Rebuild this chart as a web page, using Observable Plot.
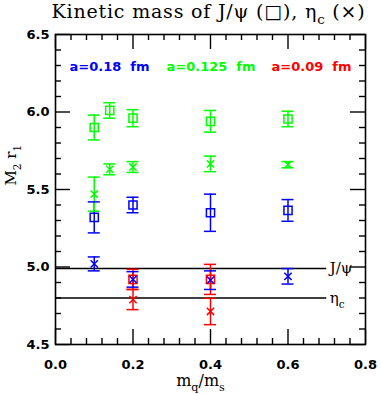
<!DOCTYPE html>
<html><head><meta charset="utf-8">
<script src="https://cdn.jsdelivr.net/npm/d3@7"></script>
<script src="https://cdn.jsdelivr.net/npm/@observablehq/plot@0.6"></script>
<style>body{margin:0;background:#fff}</style>
</head><body><div id="chart"></div>
<script>
// ---- data ----
const spacingLabels = ["a=0.18\u00a0\u00a0fm", "a=0.125\u00a0\u00a0fm", "a=0.09\u00a0\u00a0fm"];
const spacingColors = ["#0000ff", "#00ff00", "#ff0000"];

const mq018 = [0.1, 0.2, 0.4, 0.6];
const psi018 = [5.32, 5.40, 5.35, 5.365];
const psi018Err = [0.10, 0.05, 0.12, 0.07];
const eta018 = [5.02, 4.92, 4.915, 4.94];
const eta018Err = [0.045, 0.05, 0.06, 0.05];

const mq0125 = [0.1, 0.14, 0.2, 0.4, 0.6];
const psi0125 = [5.90, 6.01, 5.96, 5.94, 5.955];
const psi0125Err = [0.08, 0.05, 0.055, 0.07, 0.05];
const eta0125 = [5.47, 5.63, 5.645, 5.665, 5.66];
const eta0125Err = [0.11, 0.035, 0.035, 0.05, 0.02];

const mq009 = [0.2, 0.4];
const psi009 = [4.92, 4.92];
const psi009Err = [0.065, 0.097];
const eta009 = [4.79, 4.713];
const eta009Err = [0.065, 0.085];

const refNames = ["J/\u03c8", "\u03b7_c"];
const refValues = [4.99, 4.80];
const refLineEnd = 0.7;

const xMajor = [0, 0.2, 0.4, 0.6, 0.8];
const yMajor = [4.5, 5.0, 5.5, 6.0, 6.5];
const xMinorStep = 0.04;
const yMinorStep = 0.1;

const titleText = "Kinetic mass of J/\u03c8 (\u25a1), \u03b7_c (\u00d7)";
const xLabel = "m_q/m_s";
const yLabel = "M_2 r_1";

// ---- build tables ----
function rows(xs, ys, es, color, kind) {
  return xs.map((x, i) => ({x, y: ys[i], lo: ys[i] - es[i], hi: ys[i] + es[i], color, kind}));
}
const pts = [
  ...rows(mq018, psi018, psi018Err, spacingColors[0], "psi"),
  ...rows(mq018, eta018, eta018Err, spacingColors[0], "eta"),
  ...rows(mq0125, psi0125, psi0125Err, spacingColors[1], "psi"),
  ...rows(mq0125, eta0125, eta0125Err, spacingColors[1], "eta"),
  ...rows(mq009, psi009, psi009Err, spacingColors[2], "psi"),
  ...rows(mq009, eta009, eta009Err, spacingColors[2], "eta")
];
const refs = refNames.map((name, i) => ({name, value: refValues[i]}));
const xMinor = d3.range(0, 0.8 + 1e-9, xMinorStep).filter(v => !xMajor.some(m => Math.abs(m - v) < 1e-9));
const yMinor = d3.range(4.5, 6.5 + 1e-9, yMinorStep).filter(v => !yMajor.some(m => Math.abs(m - v) < 1e-9));

// ---- layout ----
const W = 382, H = 394, mT = 34, mL = 55, mR = 17, mB = 50;
const fw = W - mL - mR, fh = H - mT - mB;
const majorLen = 15, minorLen = 6;
const tickFont = {fontFamily: "DejaVu Sans", fontSize: 13, fontWeight: "bold"};
const legendFont = {fontFamily: "DejaVu Sans", fontSize: 13, fontWeight: "bold"};
const id = d => d;
const tk = {stroke: "black", strokeWidth: 1.4};

const chart = Plot.plot({
  width: W, height: H,
  marginTop: mT, marginLeft: mL, marginRight: mR, marginBottom: mB,
  x: {domain: [0, 0.8]},
  y: {domain: [4.5, 6.5]},
  color: {type: "identity"},
  style: {fontFamily: "DejaVu Sans", fontSize: "13px", background: "white", color: "black"},
  marks: [
    // tick labels
    Plot.axisX(xMajor, {anchor: "bottom", tickSize: 0, tickPadding: 15, tickFormat: d3.format(".1f"), label: null, ...tickFont}),
    Plot.axisY(yMajor, {anchor: "left", tickSize: 0, tickPadding: 6, tickFormat: d3.format(".1f"), label: null, ...tickFont}),
    // reference lines
    Plot.ruleY(refs, {y: "value", x1: 0, x2: refLineEnd, stroke: "black", strokeWidth: 1.4}),
    Plot.text(refs, {x: refLineEnd, y: "value", text: "name", textAnchor: "start", dx: 3, fontFamily: "DejaVu Serif", fontSize: 15}),
    // error bars
    Plot.ruleX(pts, {x: "x", y1: "lo", y2: "hi", stroke: "color", strokeWidth: 1.5}),
    Plot.ruleY(pts, {y: "lo", x1: "x", x2: "x", insetLeft: -6, insetRight: -6, stroke: "color", strokeWidth: 1.5}),
    Plot.ruleY(pts, {y: "hi", x1: "x", x2: "x", insetLeft: -6, insetRight: -6, stroke: "color", strokeWidth: 1.5}),
    // markers
    Plot.dot(pts.filter(d => d.kind === "psi"), {x: "x", y: "y", symbol: "square", r: 4.6, stroke: "color", fill: "none", strokeWidth: 1.5}),
    Plot.dot(pts.filter(d => d.kind === "eta"), {x: "x", y: "y", symbol: "times", r: 3.4, stroke: "color", fill: "none", strokeWidth: 1.5}),
    // in-plot labels for the lattice spacings
    Plot.text([spacingLabels[0]], {text: id, frameAnchor: "top-left", dx: 14, dy: 32, textAnchor: "start", lineAnchor: "middle", fill: spacingColors[0], ...legendFont}),
    Plot.text([spacingLabels[1]], {text: id, frameAnchor: "top-left", dx: 111, dy: 32, textAnchor: "start", lineAnchor: "middle", fill: spacingColors[1], ...legendFont}),
    Plot.text([spacingLabels[2]], {text: id, frameAnchor: "top-left", dx: 216, dy: 32, textAnchor: "start", lineAnchor: "middle", fill: spacingColors[2], ...legendFont}),
    // title and axis labels
    Plot.text([titleText], {text: id, frameAnchor: "top", dx: -2, dy: -17, lineAnchor: "bottom", fontFamily: "DejaVu Serif", fontSize: 19}),
    Plot.text([xLabel], {text: id, frameAnchor: "bottom", dx: -10, dy: 41, lineAnchor: "bottom", fontFamily: "DejaVu Serif", fontSize: 16}),
    Plot.text([yLabel], {text: id, frameAnchor: "left", dx: -40, dy: -4, rotate: -90, lineAnchor: "bottom", fontFamily: "DejaVu Serif", fontSize: 15}),
    // inward ticks on all four sides, then the frame
    Plot.ruleX(xMajor, {x: id, insetTop: fh - majorLen, ...tk}),
    Plot.ruleX(xMinor, {x: id, insetTop: fh - minorLen, ...tk}),
    Plot.ruleX(xMajor, {x: id, insetBottom: fh - majorLen, ...tk}),
    Plot.ruleX(xMinor, {x: id, insetBottom: fh - minorLen, ...tk}),
    Plot.ruleY(yMajor, {y: id, insetRight: fw - majorLen, ...tk}),
    Plot.ruleY(yMinor, {y: id, insetRight: fw - minorLen, ...tk}),
    Plot.ruleY(yMajor, {y: id, insetLeft: fw - majorLen, ...tk}),
    Plot.ruleY(yMinor, {y: id, insetLeft: fw - minorLen, ...tk}),
    Plot.frame({stroke: "black", strokeWidth: 1.6})
  ]
});
document.getElementById("chart").appendChild(chart);

// title letter spacing
chart.querySelectorAll("text").forEach(t => {
  if (t.textContent.startsWith("Kinetic")) t.setAttribute("letter-spacing", "0.8");
});

// subscripts: "X_y" -> X with subscript y
chart.querySelectorAll("text").forEach(t => {
  if (t.querySelector("tspan") || !t.textContent.includes("_")) return;
  const s = t.textContent;
  const fs = parseFloat(getComputedStyle(t).fontSize) || 14;
  const shift = Math.round(fs * 0.3);
  t.textContent = "";
  const NS = "http://www.w3.org/2000/svg";
  let i = 0, pendingUp = false;
  while (i < s.length) {
    if (s[i] === "_") {
      const sub = document.createElementNS(NS, "tspan");
      sub.setAttribute("dy", shift);
      sub.setAttribute("font-size", fs * 0.7);
      sub.textContent = s[i + 1];
      t.appendChild(sub);
      pendingUp = true;
      i += 2;
    } else {
      let j = i;
      while (j < s.length && s[j] !== "_") j++;
      const seg = document.createElementNS(NS, "tspan");
      if (pendingUp) { seg.setAttribute("dy", -shift); pendingUp = false; }
      seg.textContent = s.slice(i, j);
      t.appendChild(seg);
      i = j;
    }
  }
});
</script>
</body></html>
